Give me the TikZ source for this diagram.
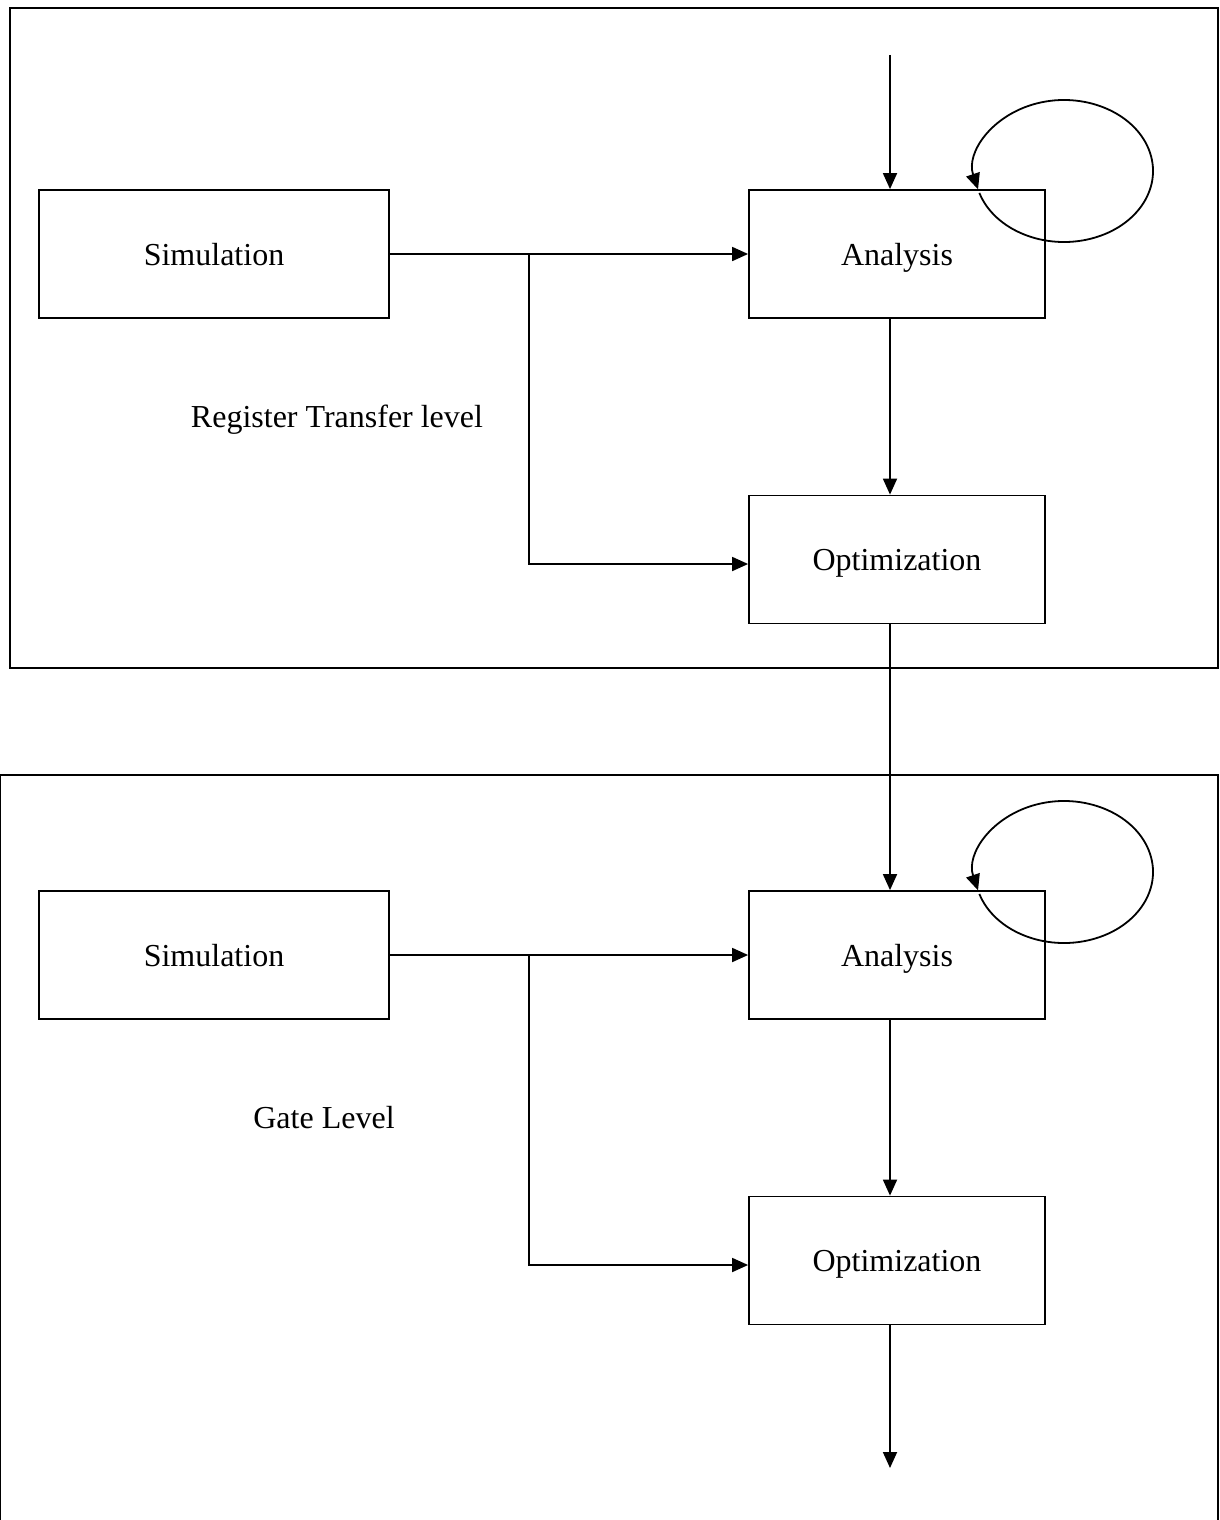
\documentclass[tikz,border=0pt]{standalone}
\usepackage{fontspec}
\setmainfont{Liberation Serif}
\usetikzlibrary{arrows.meta}
\begin{document}
\begin{tikzpicture}[x=1pt,y=-1pt,
  line width=1.8pt,
  blockbox/.style={draw,rectangle,inner sep=0pt,minimum width=296pt,minimum height=128pt,
    text height=22pt,text depth=0pt,font=\fontsize{32}{38}\selectfont},
  simbox/.style={blockbox,minimum width=350pt},
  flow/.style={-{Triangle[length=16pt,width=14pt]}},
  lbl/.style={font=\fontsize{32}{38}\selectfont,inner sep=0pt,text height=22pt,text depth=0pt}]
\useasboundingbox (0,0) rectangle (1220,1520);

% upper frame: register transfer level
\draw (10,8) rectangle (1218,668);
% lower frame, open at the page bottom
\draw (0,1520) -- (0,775) -- (1218,775) -- (1218,1520);

\foreach \lvl/\dy/\txt/\tx in {rt/0/Register Transfer level/337, gt/701/Gate Level/324} {
  \node[simbox] (sim\lvl) at (214,254+\dy) {Simulation};
  \node[blockbox] (ana\lvl) at (897,254+\dy) {Analysis};
  \node[blockbox] (opt\lvl) at (897,559.5+\dy) {Optimization};
  \node[lbl] (lab\lvl) at (\tx,416+\dy) {\txt};
  \coordinate (br\lvl) at (529,254+\dy);
  % simulation feeds analysis and optimization
  \draw[flow] (sim\lvl.east) -- (ana\lvl.west);
  \draw[flow] (br\lvl) |- ([yshift=-4.5pt]opt\lvl.west);
  % analysis to optimization
  \draw[flow] (ana\lvl.south -| 890,0) -- (opt\lvl.north -| 890,0);
  % self-loop on analysis, ending downward onto the box top
  \draw[flow] (1064,171+\dy) ++(-162:89pt and 71pt)
     arc[start angle=-162,end angle=195,x radius=89pt,y radius=71pt];
}

\coordinate (in) at (890,55);
\coordinate (out) at (890,1468);
\draw[flow] (in) -- (anart.north -| 890,0);
\draw[flow] (optrt.south -| 890,0) -- (anagt.north -| 890,0);
\draw[flow] (optgt.south -| 890,0) -- (out);
\end{tikzpicture}
\end{document}
